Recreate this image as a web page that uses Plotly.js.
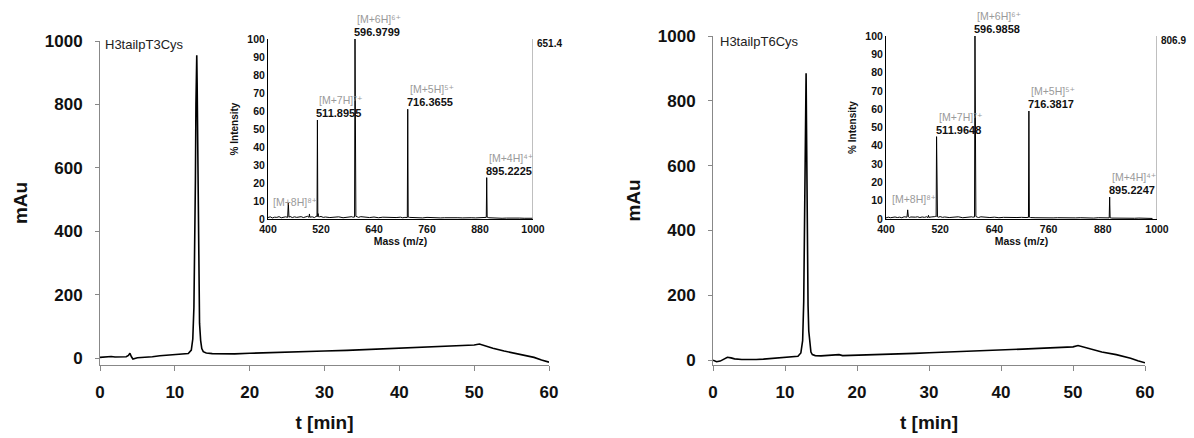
<!DOCTYPE html>
<html>
<head>
<meta charset="utf-8">
<script src="https://cdn.plot.ly/plotly-3.0.1.min.js"></script>
<style>html,body{margin:0;padding:0;background:#fff;}#chart{width:1194px;height:438px;}</style>
</head>
<body>
<div id="chart"></div>
<script>
// ---------- HPLC chromatograms ----------
const sampleNames = ["H3tailpT3Cys", "H3tailpT6Cys"];

const tLeft = [0, 0.5, 1, 1.5, 2, 2.5, 3, 3.5, 3.8, 4.0, 4.2, 4.4, 5, 6, 7, 8, 9, 10, 11, 11.8, 12.2, 12.4, 12.55, 12.65, 12.75, 12.82, 12.88, 12.93, 12.98, 13.05, 13.12, 13.2, 13.3, 13.45, 13.6, 13.8, 14.2, 15, 16, 17, 18, 20, 22, 25, 28, 30, 33, 36, 40, 43, 46, 48, 50, 50.7, 51.5, 52.5, 54, 56, 58, 59, 60];
const mAuLeft = [2, 3, 6, 5, 3, 4, 3, 4, 8, 15, 4, -3, 1, 2, 4, 7, 9, 9, 11, 14, 25, 60, 160, 330, 560, 800, 940, 955, 870, 650, 420, 230, 110, 55, 30, 20, 16, 14, 13, 14, 13, 15, 16, 18, 20, 22, 24, 27, 31, 34, 37, 38, 41, 44, 38, 31, 22, 12, 2, -6, -13];

const tRight = [0, 0.5, 1, 1.5, 2, 2.5, 3, 4, 5, 6, 7, 8, 9, 10, 11, 11.8, 12.2, 12.45, 12.6, 12.7, 12.8, 12.87, 12.93, 12.98, 13.05, 13.12, 13.2, 13.3, 13.45, 13.6, 13.8, 14.2, 15, 16, 17, 17.5, 18, 20, 22, 25, 28, 30, 33, 36, 40, 43, 46, 48, 50, 50.7, 51.5, 52.5, 54, 56, 58, 59, 60];
const mAuRight = [0, -5, -3, 4, 9, 7, 4, 2, 1, 2, 3, 5, 7, 8, 9, 12, 22, 60, 180, 380, 620, 800, 885, 740, 500, 300, 170, 90, 45, 25, 17, 14, 13, 14, 15, 17, 14, 15, 17, 19, 21, 23, 25, 28, 31, 34, 37, 38, 41, 45, 40, 33, 25, 17, 6, -2, -8];

// ---------- MS insets ----------
const mzLeft = [400,405,410,415,420,425,430,435,440,444.5,446,447.5,450,455,460,465,470,475,480,485,490,492.8,493.8,494.8,500,505,508,510,511,511.9,512.8,513.4,514,516,520,525,530,540,550,560,570,580,585,590,592,595,596,597,598,599,602,605,610,620,630,640,650,660,670,680,690,700,705,710,715.4,716.4,717.4,720,730,740,750,760,770,780,790,800,810,820,830,840,850,860,870,880,890,894.2,895.2,896.2,900,910,920,930,940,950,960,970,980,990,1000];
const intLeft = [0.8,1.2,0.6,1.0,0.9,1.3,0.7,1.1,1.2,0.9,9,1.0,1.4,0.8,1.2,0.9,1.1,1.3,0.8,1.0,1.5,0.9,2.8,1.0,1.2,0.8,1.3,1.6,1.2,55,1.5,3,1.3,1.2,1.4,0.9,1.1,0.8,1.0,1.2,0.7,1.1,0.9,1.3,1.0,1.2,1.1,100,2.0,1.5,1.2,0.9,1.3,1.0,0.8,1.1,0.7,1.0,0.9,0.6,0.8,1.0,0.7,0.9,0.8,61,1.1,0.9,0.7,0.8,0.6,0.9,0.7,0.8,0.6,0.7,0.8,0.5,0.7,0.6,0.8,0.7,0.6,0.8,0.7,0.9,23,1.0,0.7,0.5,0.6,0.4,0.5,0.6,0.4,0.5,0.4,0.5,0.4];

const mzRight = [400,405,410,415,420,425,430,435,440,446.5,448,449.5,452,455,460,465,470,475,480,485,490,493,494,495,500,505,508,510,511,511.96,512.9,514,516,520,525,530,540,550,560,570,580,585,590,592,595,596,596.99,598,599,602,605,610,620,630,640,650,660,670,680,690,700,705,710,715.4,716.38,717.4,720,730,740,750,760,770,780,790,800,810,820,830,840,850,860,870,880,890,894.2,895.22,896.2,900,910,920,930,940,950,960,970,980,990,1000];
const intRight = [0.6,1.0,0.7,0.9,1.1,0.8,1.0,0.7,1.2,1.0,5,1.2,0.8,1.1,0.9,1.0,1.2,0.8,1.1,0.9,1.2,0.8,2.0,0.9,1.1,1.0,1.3,1.5,1.2,45,1.4,1.2,1.0,1.3,0.9,1.1,0.8,1.0,1.2,0.7,1.1,0.9,1.2,1.0,1.3,1.1,100,1.8,1.4,1.0,0.8,1.2,0.9,0.8,1.0,0.7,0.9,0.8,0.6,0.8,0.9,0.7,0.8,0.9,59,1.0,0.8,0.7,0.6,0.8,0.7,0.6,0.7,0.6,0.7,0.5,0.6,0.7,0.5,0.6,0.5,0.7,0.6,0.5,0.6,12,0.7,0.5,0.4,0.5,0.4,0.5,0.4,0.5,0.4,0.4,0.3];

const ionLabels = ["[M+8H]\u2078\u207A", "[M+7H]\u2077\u207A", "[M+6H]\u2076\u207A", "[M+5H]\u2075\u207A", "[M+4H]\u2074\u207A"];
const peakMzLeft = [446, 511.9, 597, 716.4, 895.2];
const peakIntLeft = [9, 55, 100, 61, 23];
const peakTextLeft = ["", "511.8955", "596.9799", "716.3655", "895.2225"];
const peakMzRight = [448, 511.96, 596.99, 716.38, 895.22];
const peakIntRight = [5, 45, 100, 59, 12];
const peakTextRight = ["", "511.9648", "596.9858", "716.3817", "895.2247"];
const maxCounts = ["651.4", "806.9"];

const xTicksMain = [0, 10, 20, 30, 40, 50, 60];
const yTicksMain = [0, 200, 400, 600, 800, 1000];
const xTicksMS = [400, 520, 640, 760, 880, 1000];
const yTicksMS = [0, 10, 20, 30, 40, 50, 60, 70, 80, 90, 100];

// ---------- build ----------
const FONT = "Arial, 'Liberation Sans', 'DejaVu Sans', sans-serif";
const data = [
  {x: tLeft, y: mAuLeft, xaxis: 'x', yaxis: 'y', type: 'scatter', mode: 'lines', line: {color: '#000', width: 1.6}},
  {x: tRight, y: mAuRight, xaxis: 'x2', yaxis: 'y2', type: 'scatter', mode: 'lines', line: {color: '#000', width: 1.6}},
  {x: mzLeft, y: intLeft, xaxis: 'x3', yaxis: 'y3', type: 'scatter', mode: 'lines', line: {color: '#000', width: 1}},
  {x: mzRight, y: intRight, xaxis: 'x4', yaxis: 'y4', type: 'scatter', mode: 'lines', line: {color: '#000', width: 1}}
];

function mainX(domain, anchor) {
  return {domain: domain, anchor: anchor, range: [0, 60], tickvals: xTicksMain, showgrid: false, zeroline: false,
    showline: true, linecolor: '#888', linewidth: 1, ticks: 'outside', ticklen: 5, tickcolor: '#888',
    tickfont: {size: 17, family: FONT, weight: 'bold', color: '#111'}, ticklabelstandoff: 7,
    title: {text: 't [min]', font: {size: 19, family: FONT, weight: 'bold', color: '#111'}, standoff: 14}};
}
function mainY(domain, anchor, lo) {
  return {domain: domain, anchor: anchor, range: [lo, 1000], tickvals: yTicksMain, showgrid: false, zeroline: false,
    showline: true, linecolor: '#888', linewidth: 1, ticks: 'outside', ticklen: 4, tickcolor: '#888',
    tickfont: {size: 17, family: FONT, weight: 'bold', color: '#111'}, ticklabelstandoff: 9,
    title: {text: 'mAu', font: {size: 19, family: FONT, weight: 'bold', color: '#111'}, standoff: 12}};
}
function msX(domain, anchor) {
  return {domain: domain, anchor: anchor, range: [400, 1000], tickvals: xTicksMS, showgrid: false, zeroline: false,
    showline: true, linecolor: '#000', linewidth: 1, ticks: '',
    tickfont: {size: 10.5, family: FONT, weight: 'bold', color: '#111'},
    title: {text: 'Mass (m/z)', font: {size: 10.5, family: FONT, weight: 'bold', color: '#111'}, standoff: 3}};
}
function msY(domain, anchor) {
  return {domain: domain, anchor: anchor, range: [0, 100], tickvals: yTicksMS, showgrid: false, zeroline: false,
    showline: true, linecolor: '#000', linewidth: 1, ticks: '',
    tickfont: {size: 10.5, family: FONT, weight: 'bold', color: '#111'},
    title: {text: '% Intensity', font: {size: 10, family: FONT, weight: 'bold', color: '#111'}, standoff: 6}};
}

const annotations = [];
const shapes = [];
function addMS(xa, ya, mz, inten, nums, maxc, lblShift) {
  for (let i = 0; i < mz.length; i++) {
    if (nums[i] === "") {
      annotations.push({xref: xa, yref: ya, x: mz[i], y: inten[i], text: ionLabels[i],
        showarrow: false, xanchor: 'center', yanchor: 'middle', xshift: lblShift[0], yshift: lblShift[1],
        font: {size: 10.5, family: FONT, color: '#9a9a9a'}});
    } else {
      annotations.push({xref: xa, yref: ya, x: mz[i], y: inten[i], text: nums[i],
        showarrow: false, xanchor: 'left', yanchor: 'bottom', xshift: -3, yshift: -1,
        font: {size: 11, family: FONT, weight: 'bold', color: '#111'}});
      annotations.push({xref: xa, yref: ya, x: mz[i], y: inten[i], text: ionLabels[i],
        showarrow: false, xanchor: 'left', yanchor: 'bottom', xshift: 0, yshift: 12,
        font: {size: 10.5, family: FONT, color: '#9a9a9a'}});
    }
  }
  shapes.push({type: 'line', xref: xa, yref: ya, x0: 1000, x1: 1000, y0: 0, y1: 100, line: {color: '#aaa', width: 1.5}});
  annotations.push({xref: xa, yref: ya, x: 1000, y: 100, text: maxc, showarrow: false,
    xanchor: 'left', yanchor: 'middle', xshift: 2, yshift: -4, font: {size: 10, family: FONT, weight: 'bold', color: '#111'}});
}
addMS('x3', 'y3', peakMzLeft, peakIntLeft, peakTextLeft, maxCounts[0], [7, 1]);
addMS('x4', 'y4', peakMzRight, peakIntRight, peakTextRight, maxCounts[1], [6, 11]);

annotations.push({xref: 'paper', yref: 'paper', x: 103 / 1194, y: 1 - 45 / 438, text: sampleNames[0], showarrow: false,
  xanchor: 'left', yanchor: 'middle', font: {size: 13, family: FONT, color: '#222'}});
annotations.push({xref: 'paper', yref: 'paper', x: 718 / 1194, y: 1 - 42 / 438, text: sampleNames[1], showarrow: false,
  xanchor: 'left', yanchor: 'middle', font: {size: 13, family: FONT, color: '#222'}});

const layout = {
  width: 1194, height: 438, margin: {l: 0, r: 0, t: 0, b: 0},
  paper_bgcolor: '#fff', plot_bgcolor: 'rgba(0,0,0,0)', showlegend: false,
  font: {family: FONT, color: '#111'},
  xaxis: mainX([100 / 1194, 549 / 1194], 'y'),
  yaxis: mainY([1 - 365 / 438, 1 - 41 / 438], 'x', -22),
  xaxis2: mainX([713 / 1194, 1145 / 1194], 'y2'),
  yaxis2: mainY([1 - 365 / 438, 1 - 36 / 438], 'x2', -15),
  xaxis3: msX([268 / 1194, 533 / 1194], 'y3'),
  yaxis3: msY([1 - 219 / 438, 1 - 39 / 438], 'x3'),
  xaxis4: msX([886 / 1194, 1157 / 1194], 'y4'),
  yaxis4: msY([1 - 219 / 438, 1 - 36 / 438], 'x4'),
  annotations: annotations,
  shapes: shapes
};

Plotly.newPlot('chart', data, layout, {displayModeBar: false, staticPlot: true});
</script>
</body>
</html>
